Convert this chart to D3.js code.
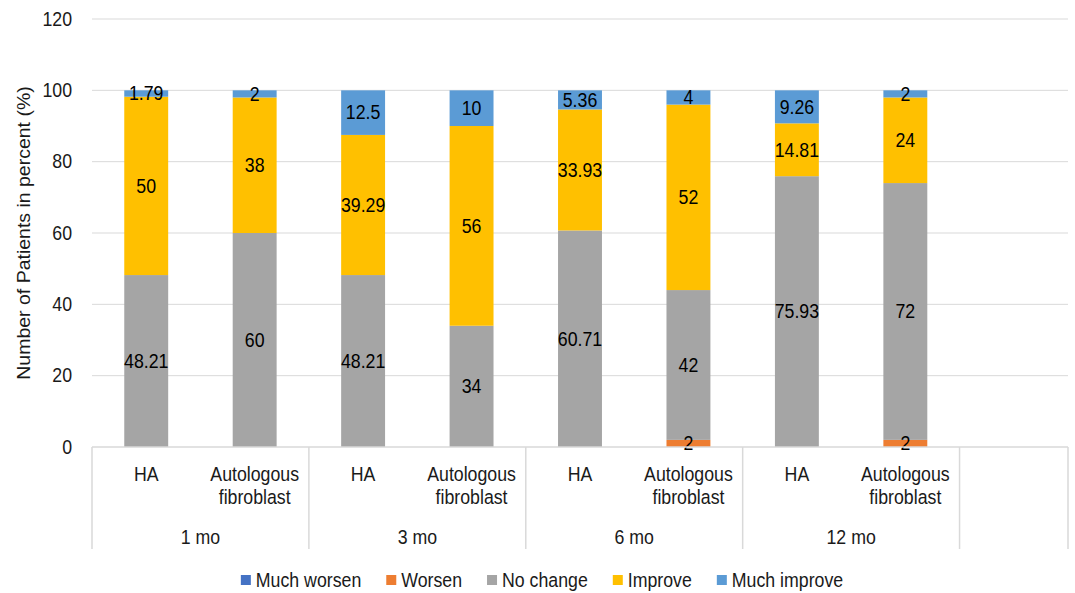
<!DOCTYPE html>
<html><head><meta charset="utf-8">
<script src="https://cdn.jsdelivr.net/npm/d3@7"></script>
<style>body{margin:0;background:#fff}svg{display:block;font-family:"Liberation Sans",Arial,sans-serif}</style>
</head><body><svg id="c" width="1075" height="593"></svg>
<script>
const groups = ["1 mo","3 mo","6 mo","12 mo"];
const treatments = ["HA","Autologous fibroblast"];
const seriesNames = ["Much worsen","Worsen","No change","Improve","Much improve"];
const colors = ["#4472c4","#ed7d31","#a5a5a5","#ffc000","#5b9bd5"];
// order: 1mo HA, 1mo AF, 3mo HA, 3mo AF, 6mo HA, 6mo AF, 12mo HA, 12mo AF
const muchWorsen  = [0,0,0,0,0,0,0,0];
const worsen      = [0,0,0,0,0,2,0,2];
const noChange    = [48.21,60,48.21,34,60.71,42,75.93,72];
const improve     = [50,38,39.29,56,33.93,52,14.81,24];
const muchImprove = [1.79,2,12.5,10,5.36,4,9.26,2];
const yTicks = [0,20,40,60,80,100,120];

const svg = d3.select("#c");
const pL=92,pR=1068,pT=19,pB=447;
const nSlots = 9;
const x = d3.scaleBand().domain(d3.range(nSlots)).range([pL,pR]).paddingInner(0.595).paddingOuter(0.2975);
const y = d3.scaleLinear().domain([0,120]).range([pB,pT]);
const step = x.step();
const txt = "#1a1a1a";
const fs = 19.5, sx = 0.91;

function label(parent, tx, ty, s, anchor, fill){
  return parent.append("text").attr("transform",`translate(${tx},${ty}) scale(${sx},1)`)
    .attr("dy","0.35em").attr("text-anchor",anchor||"middle").attr("font-size",fs)
    .attr("fill",fill||txt).text(s);
}

svg.append("g").selectAll("line").data(yTicks.filter(d=>d>0)).join("line")
  .attr("x1",pL).attr("x2",pR).attr("y1",d=>y(d)).attr("y2",d=>y(d))
  .attr("stroke","#d9d9d9").attr("stroke-width",1);
const gy = svg.append("g");
yTicks.forEach(d=>label(gy,72,y(d),d,"end"));
svg.append("text").attr("transform",`translate(24,${(pT+pB)/2}) rotate(-90) scale(1,${sx})`)
  .attr("text-anchor","middle").attr("dy","0.35em").attr("font-size",fs).attr("fill",txt)
  .text("Number of Patients in percent (%)");

const rows = d3.range(8).map(i=>({i, "Much worsen":muchWorsen[i],"Worsen":worsen[i],"No change":noChange[i],"Improve":improve[i],"Much improve":muchImprove[i]}));
const stack = d3.stack().keys(seriesNames)(rows);
const gBars = svg.append("g");
stack.forEach((s,k)=>{
  gBars.append("g").attr("fill",colors[k]).selectAll("rect").data(s).join("rect")
    .attr("x",d=>x(d.data.i)).attr("width",x.bandwidth())
    .attr("y",d=>y(d[1])).attr("height",d=>y(d[0])-y(d[1]));
});
const gLab = svg.append("g");
stack.forEach((s,k)=>{
  s.filter(d=>d[1]-d[0]>0).forEach(d=>
    label(gLab, x(d.data.i)+x.bandwidth()/2, y((d[0]+d[1])/2), +(d[1]-d[0]).toFixed(2), "middle", "#000"));
});

const axCol="#d9d9d9";
svg.append("line").attr("x1",pL).attr("x2",pR).attr("y1",pB).attr("y2",pB).attr("stroke",axCol).attr("stroke-width",1.5);
const seps = d3.range(5).map(g=>pL+g*2*step).concat([pR]);
svg.append("g").selectAll("line").data(seps).join("line")
  .attr("x1",d=>d).attr("x2",d=>d).attr("y1",pB).attr("y2",549)
  .attr("stroke",axCol).attr("stroke-width",1.5);
const sub = svg.append("g");
d3.range(8).forEach(i=>{
  const cx = x(i)+x.bandwidth()/2;
  const t = treatments[i%2];
  const words = t==="HA"?["HA"]:["Autologous","fibroblast"];
  words.forEach((w,j)=>label(sub,cx,474+j*23,w));
});
const gg = svg.append("g");
groups.forEach((d,g)=>label(gg,pL+g*2*step+step,537,d));

const leg = svg.append("g");
const items = [];
seriesNames.forEach((n,k)=>{
  const g = leg.append("g");
  g.append("rect").attr("x",0).attr("y",-5).attr("width",10).attr("height",10).attr("fill",colors[k]);
  const t = label(g,15,0,n,"start");
  const w = 15 + t.node().getComputedTextLength()*sx;
  items.push({g,w});
});
const gap = 25;
const total = d3.sum(items,d=>d.w)+gap*(items.length-1);
let lx = 542 - total/2;
items.forEach(it=>{it.g.attr("transform",`translate(${lx},580)`); lx += it.w+gap;});
</script></body></html>
